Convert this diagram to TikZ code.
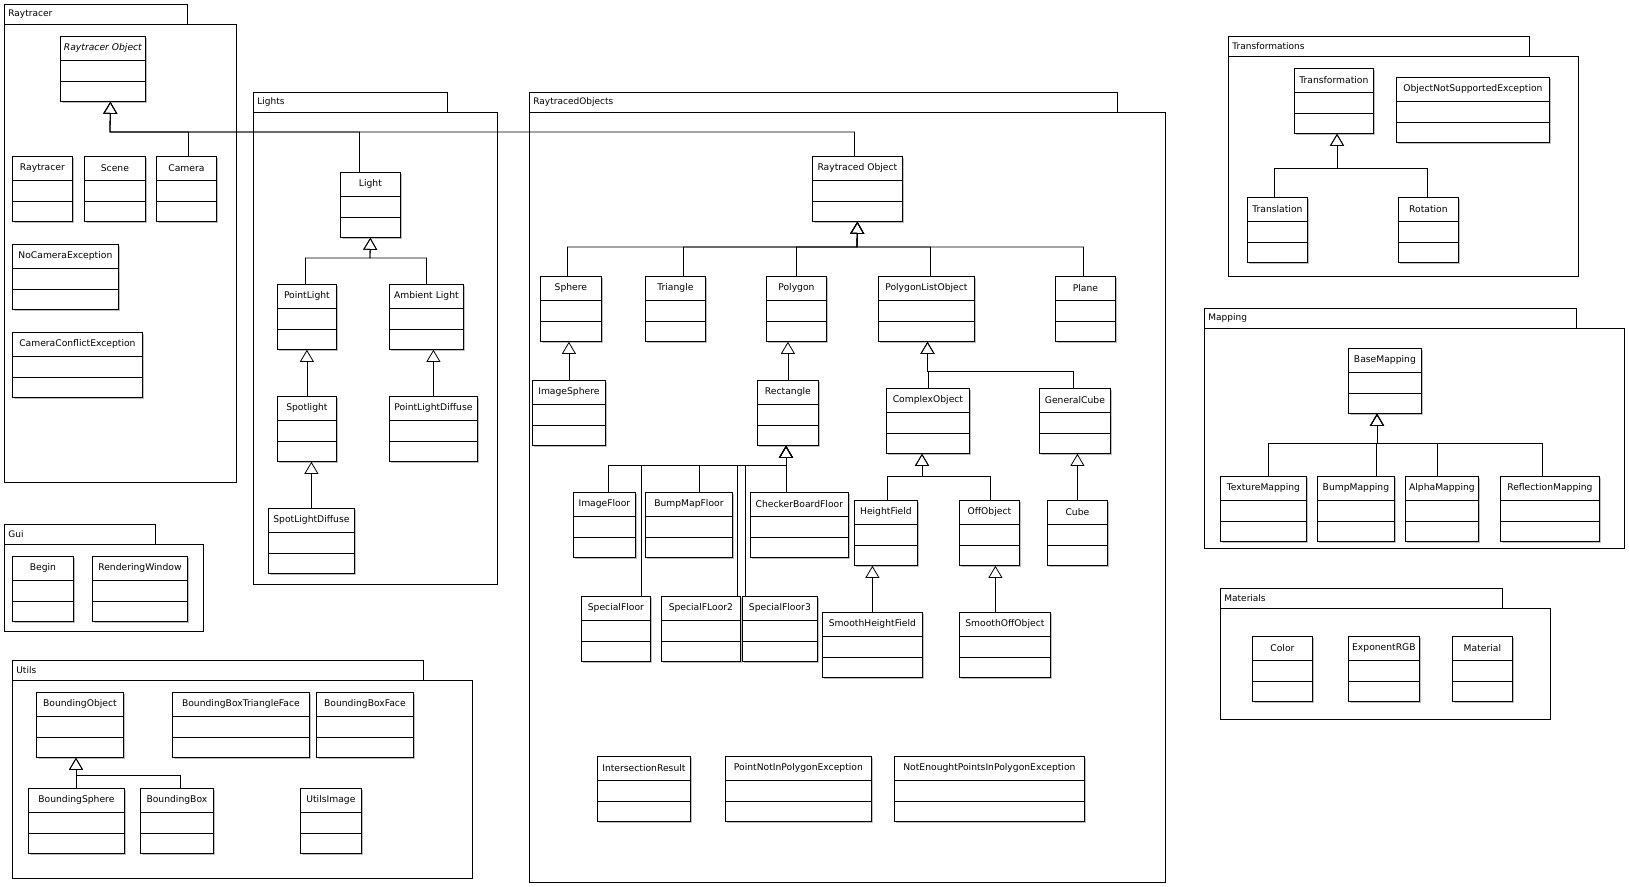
\documentclass[tikz,border=0pt]{standalone}
\usepackage{fontspec}
\setmainfont{DejaVu Sans}
\usetikzlibrary{arrows.meta, shadows}

% class box: name, x, y (top left), width, title
\newcommand{\umlclass}[5]{%
  \node[umlbox, minimum width=#4pt] (#1) at (#2,#3) {};
  \node[umltitle] (#1-t) at ([yshift=-12pt]#1.north) {#5};
}
% package: name, x, y, tab right, body right, body bottom, label
\newcommand{\umlpackage}[7]{%
  \draw[pkgbox] (#2,#3) rectangle (#4,#3+20);
  \draw[pkgbox] (#2,#3+20) rectangle (#5,#6);
  \node[pkglabel] (#1) at (#2,#3+10) {#7};
}

\begin{document}
\begin{tikzpicture}[x=1pt, y=-1pt, line width=0.8pt,
  umlbox/.style={draw, fill=white, anchor=north west, inner sep=0pt,
    minimum height=65pt,
    drop shadow={shadow xshift=1.3pt, shadow yshift=-1.3pt, fill=black!25, opacity=1},
    path picture={
      \draw ([yshift=-24pt]path picture bounding box.north west)
        -- ([yshift=-24pt]path picture bounding box.north east);
      \draw ([yshift=-45pt]path picture bounding box.north west)
        -- ([yshift=-45pt]path picture bounding box.north east);
    }},
  umltitle/.style={inner sep=0pt, font=\fontsize{9.2}{11}\selectfont},
  pkgbox/.style={draw, fill=white,
    drop shadow={shadow xshift=1.3pt, shadow yshift=-1.3pt, fill=black!25, opacity=1}},
  pkglabel/.style={anchor=west, xshift=4pt, inner sep=0pt, font=\fontsize{9}{11}\selectfont},
  gen/.style={-{Triangle[open, width=14pt, length=12pt]}}]

\useasboundingbox (0,0) rectangle (1629,886);
\fill[white] (0,0) rectangle (1629,886);

% packages
\umlpackage{raytracer}{4}{4}{187}{236}{482}{Raytracer}
\umlpackage{lights}{253}{92}{447}{497}{584}{Lights}
\umlpackage{rtobjects}{529}{92}{1117}{1165}{882}{RaytracedObjects}
\umlpackage{transformations}{1228}{36}{1529}{1578}{276}{Transformations}
\umlpackage{mapping}{1204}{308}{1576}{1624}{548}{Mapping}
\umlpackage{materials}{1220}{588}{1502}{1550}{719}{Materials}
\umlpackage{gui}{4}{524}{155}{203}{631}{Gui}
\umlpackage{utils}{12}{660}{423}{472}{878}{Utils}

% Raytracer
\umlclass{rtobj}{60}{36}{85}{\itshape Raytracer Object}
\umlclass{raytracer}{12}{156}{60}{Raytracer}
\umlclass{scene}{84}{156}{61}{Scene}
\umlclass{camera}{156}{156}{60}{Camera}
\umlclass{nocam}{12}{244}{106}{NoCameraException}
\umlclass{camconf}{12}{332}{130}{CameraConflictException}

% Lights
\umlclass{light}{340}{172}{60}{Light}
\umlclass{pointlight}{277}{284}{59}{PointLight}
\umlclass{ambient}{389}{284}{74}{Ambient Light}
\umlclass{spotlight}{277}{396}{59}{Spotlight}
\umlclass{pldiffuse}{389}{396}{88}{PointLightDiffuse}
\umlclass{sldiffuse}{268}{508}{86}{SpotLightDiffuse}

% RaytracedObjects
\umlclass{raytraced}{812}{156}{90}{Raytraced Object}
\umlclass{sphere}{540}{276}{61}{Sphere}
\umlclass{triangle}{645}{276}{60}{Triangle}
\umlclass{polygon}{766}{276}{60}{Polygon}
\umlclass{polylist}{878}{276}{96}{PolygonListObject}
\umlclass{plane}{1055}{276}{60}{Plane}
\umlclass{imgsphere}{532}{380}{73}{ImageSphere}
\umlclass{rectangle}{757}{380}{61}{Rectangle}
\umlclass{complex}{886}{388}{83}{ComplexObject}
\umlclass{gencube}{1039}{388}{71}{GeneralCube}
\umlclass{imgfloor}{573}{492}{62}{ImageFloor}
\umlclass{bumpfloor}{645}{492}{87}{BumpMapFloor}
\umlclass{checker}{750}{492}{98}{CheckerBoardFloor}
\umlclass{heightfield}{854}{500}{63}{HeightField}
\umlclass{offobject}{959}{500}{60}{OffObject}
\umlclass{cube}{1047}{500}{60}{Cube}
\umlclass{specfloor}{581}{596}{69}{SpecialFloor}
\umlclass{specfloortwo}{661}{596}{79}{SpecialFLoor2}
\umlclass{specfloorthree}{742}{596}{75}{SpecialFloor3}
\umlclass{smoothhf}{822}{612}{100}{SmoothHeightField}
\umlclass{smoothoff}{959}{612}{91}{SmoothOffObject}
\umlclass{intersect}{597}{756}{93}{IntersectionResult}
\umlclass{pnip}{725}{756}{146}{PointNotInPolygonException}
\umlclass{nepip}{894}{756}{190}{NotEnoughtPointsInPolygonException}

% Transformations
\umlclass{transf}{1294}{68}{79}{Transformation}
\umlclass{onse}{1396}{77}{153}{ObjectNotSupportedException}
\umlclass{translation}{1247}{197}{60}{Translation}
\umlclass{rotation}{1398}{197}{60}{Rotation}

% Mapping
\umlclass{basemap}{1348}{348}{73}{BaseMapping}
\umlclass{texmap}{1220}{476}{86}{TextureMapping}
\umlclass{bumpmap}{1317}{476}{77}{BumpMapping}
\umlclass{alphamap}{1405}{476}{73}{AlphaMapping}
\umlclass{reflmap}{1500}{476}{99}{ReflectionMapping}

% Materials
\umlclass{color}{1252}{636}{60}{Color}
\umlclass{exprgb}{1348}{636}{71}{ExponentRGB}
\umlclass{material}{1452}{636}{60}{Material}

% Gui
\umlclass{begin}{12}{556}{61}{Begin}
\umlclass{renderwin}{92}{556}{95}{RenderingWindow}

% Utils
\umlclass{bobj}{36}{692}{87}{BoundingObject}
\umlclass{bbtf}{172}{692}{137}{BoundingBoxTriangleFace}
\umlclass{bbface}{316}{692}{97}{BoundingBoxFace}
\umlclass{bsphere}{28}{788}{96}{BoundingSphere}
\umlclass{bbox}{140}{788}{73}{BoundingBox}
\umlclass{utilsimg}{300}{788}{61}{UtilsImage}

% generalisations
\coordinate (rtbus) at (110,132);
\draw[gen] ([xshift=2pt]camera.north) |- (rtbus) -- ([xshift=7.5pt]rtobj.south);
\draw[gen] ([xshift=-11pt]light.north) |- (rtbus) -- ([xshift=7.5pt]rtobj.south);
\draw[gen] ([xshift=-3pt]raytraced.north) |- (rtbus) -- ([xshift=7.5pt]rtobj.south);

\coordinate (lbus) at (370,258);
\draw[gen] ([xshift=-1.5pt]pointlight.north) |- (lbus) -- (light.south);
\draw[gen] (ambient.north) |- (lbus) -- (light.south);
\draw[gen] (spotlight.north) -- (pointlight.south);
\draw[gen] (sldiffuse.north) -- (sldiffuse.north |- spotlight.south);
\draw[gen] (pldiffuse.north) -- (pldiffuse.north |- ambient.south);

\coordinate (robus) at (857,247);
\draw[gen] ([xshift=-3.5pt]sphere.north) |- (robus) -- (raytraced.south);
\draw[gen] ([xshift=8pt]triangle.north) |- (robus) -- (raytraced.south);
\draw[gen] (polygon.north) |- (robus) -- (raytraced.south);
\draw[gen] ([xshift=4pt]polylist.north) |- (robus) -- (raytraced.south);
\draw[gen] ([xshift=-2pt]plane.north) |- (robus) -- (raytraced.south);
\draw[gen] (imgsphere.north) -- (imgsphere.north |- sphere.south);
\draw[gen] (rectangle.north) -- (rectangle.north |- polygon.south);

\coordinate (plbus) at (927.5,371);
\draw[gen] (complex.north) |- (plbus) -- (plbus |- polylist.south);
\draw[gen] ([xshift=-1.5pt]gencube.north) |- (plbus) -- (plbus |- polylist.south);

\coordinate (rcbus) at (786,465);
\draw[gen] ([xshift=4pt]imgfloor.north) |- (rcbus) -- (rcbus |- rectangle.south);
\draw[gen] ([xshift=25.5pt]specfloor.north) |- (rcbus) -- (rcbus |- rectangle.south);
\draw[gen] ([xshift=10.5pt]bumpfloor.north) |- (rcbus) -- (rcbus |- rectangle.south);
\draw[gen] ([xshift=36.5pt]specfloortwo.north) |- (rcbus) -- (rcbus |- rectangle.south);
\draw[gen] ([xshift=-34.5pt]specfloorthree.north) |- (rcbus) -- (rcbus |- rectangle.south);
\draw[gen] ([xshift=-13pt]checker.north) |- (rcbus) -- (rcbus |- rectangle.south);

\coordinate (cobus) at (922,476);
\draw[gen] ([xshift=1.5pt]heightfield.north) |- (cobus) -- (cobus |- complex.south);
\draw[gen] ([xshift=1pt]offobject.north) |- (cobus) -- (cobus |- complex.south);
\draw[gen] (cube.north) -- (cube.north |- gencube.south);
\draw[gen] (smoothhf.north) -- (smoothhf.north |- heightfield.south);
\draw[gen] ([xshift=-9.5pt]smoothoff.north) -- ([xshift=-9.5pt]smoothoff.north |- offobject.south);

\coordinate (tbus) at (1337,168);
\draw[gen] ([xshift=-3pt]translation.north) |- (tbus) -- (tbus |- transf.south);
\draw[gen] ([xshift=-1pt]rotation.north) |- (tbus) -- (tbus |- transf.south);

\coordinate (mbus) at (1377,443);
\draw[gen] ([xshift=5pt]texmap.north) |- (mbus) -- (mbus |- basemap.south);
\draw[gen] ([xshift=20.5pt]bumpmap.north) |- (mbus) -- (mbus |- basemap.south);
\draw[gen] ([xshift=-4.5pt]alphamap.north) |- (mbus) -- (mbus |- basemap.south);
\draw[gen] ([xshift=-7.5pt]reflmap.north) |- (mbus) -- (mbus |- basemap.south);

\coordinate (ubus) at (76,775);
\draw[gen] (bsphere.north) |- (ubus) -- (ubus |- bobj.south);
\draw[gen] ([xshift=3.5pt]bbox.north) |- (ubus) -- (ubus |- bobj.south);

\end{tikzpicture}
\end{document}
